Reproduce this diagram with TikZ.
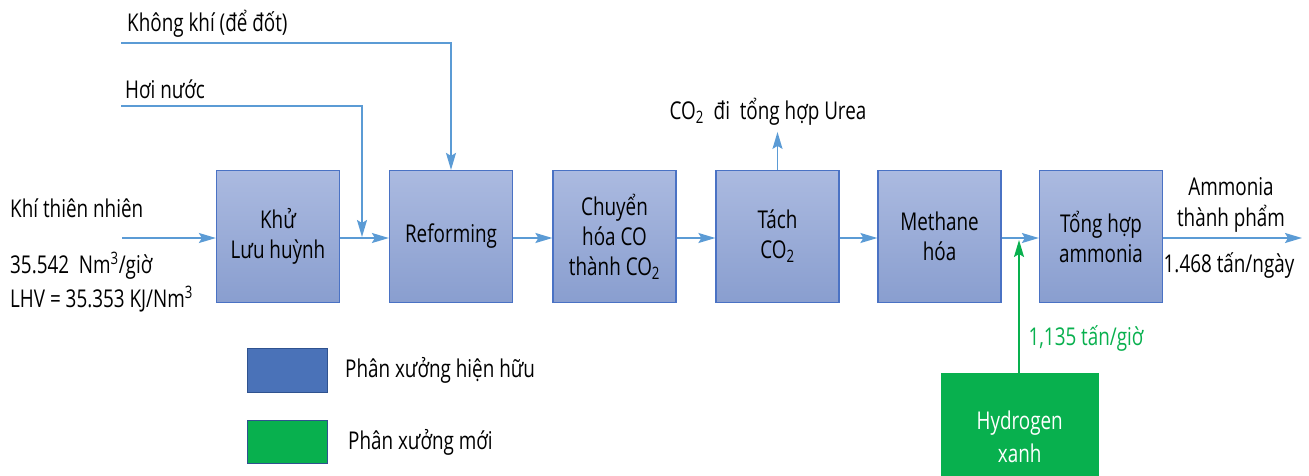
\documentclass[tikz,border=0pt]{standalone}
\usepackage{fontspec}
\setmainfont{Open Sans}[FakeStretch=0.77]
\usetikzlibrary{arrows.meta,positioning}
\definecolor{boxtop}{HTML}{ABBAE0}
\definecolor{boxbot}{HTML}{899ECF}
\definecolor{boxline}{HTML}{4A72C4}
\definecolor{flowc}{HTML}{5B9BD5}
\definecolor{xanh}{HTML}{08B04E}
\definecolor{legblue}{HTML}{4A72B8}
\definecolor{legline}{HTML}{2F528F}
\begin{document}
\begin{tikzpicture}[x=1pt,y=-1pt,
    font=\fontsize{24.5}{30}\selectfont,
    unit/.style={draw=boxline,line width=1.2pt,top color=boxtop,bottom color=boxbot,
      minimum width=123pt,minimum height=132pt,align=center,inner sep=0pt},
    flow/.style={flowc,line width=1.6pt,-{Stealth[length=17pt,width=10pt,inset=3pt]}},
    lbl/.style={inner sep=0pt,anchor=west}]
  \useasboundingbox (0,0) rectangle (1309,475);
  % cac phan xuong
  \node[unit] (khu) at (278,236.5) {Khử\\Lưu huỳnh};
  \node[unit] (ref) at (451,236.5) {Reforming};
  \node[unit] (chuyen) at (614.5,236.5) {Chuyển\\hóa CO\\thành CO\textsubscript{2}};
  \node[unit] (tach) at (777.5,236.5) {Tách\\CO\textsubscript{2}};
  \node[unit] (meth) at (939.5,236.5) {Methane\\hóa};
  \node[unit] (amon) at (1101,236.5) {Tổng hợp\\ammonia};
  \node[draw=xanh,fill=xanh,minimum width=157pt,minimum height=110pt,anchor=north west,
    inner sep=0pt] (hydro) at (941,373) {};
  \node[text=white,align=center,inner sep=0pt] at ([yshift=-64pt]hydro.north) {Hydrogen\\[3pt]xanh};
  % dong chinh
  \coordinate (vao) at (122,238);
  \coordinate (ra) at (1302,238);
  \draw[flow] (vao)--(vao-|khu.west);
  \draw[flow] (khu.east|-vao)--(ref.west|-vao);
  \draw[flow] (ref.east|-vao)--(chuyen.west|-vao);
  \draw[flow] (chuyen.east|-vao)--(tach.west|-vao);
  \draw[flow] (tach.east|-vao)--(meth.west|-vao);
  \draw[flow] (meth.east|-vao)--(amon.west|-vao);
  \draw[flow] (amon.east|-vao)--(ra);
  % hoi nuoc, khong khi
  \coordinate (hoi) at (121,106);
  \coordinate (kk) at (121,43);
  \draw[flow] (hoi)-|(362,237);
  \draw[flow] (kk)-|(ref.north);
  \draw[flow] (tach.north)--++(0,-38) coordinate (co2);
  \draw[xanh,line width=1.6pt,-{Stealth[length=17pt,width=10pt,inset=3pt]}] (hydro.north-|1019,0)--(1019,240);
  % nhan
  \node[lbl] at (10,208) {Khí thiên nhiên};
  \node[lbl] at (10,266) {35.542~~Nm\textsuperscript{3}/giờ};
  \node[lbl] at (10,299) {LHV = 35.353 KJ/Nm\textsuperscript{3}};
  \node[lbl] at (125,89) {Hơi nước};
  \node[lbl] at (127,24) {Không khí (để đốt)};
  \node[inner sep=0pt] at (768,112) {CO\textsubscript{2}~~đi~~tổng hợp Urea};
  \node[inner sep=0pt] at (1231,187) {Ammonia};
  \node[inner sep=0pt] at (1231,219) {thành phẩm};
  \node[inner sep=0pt] at (1229,265) {1.468 tấn/ngày};
  \node[inner sep=0pt,text=xanh] at (1086,338) {1,135 tấn/giờ};
  % chu thich
  \node[draw=legline,fill=legblue,line width=1pt,minimum width=80pt,minimum height=44pt,
    anchor=north west,inner sep=0pt] (lghh) at (247,348) {};
  \node[lbl,right=17pt of lghh] {Phân xưởng hiện hữu};
  \node[draw=legline,fill=xanh,line width=1pt,minimum width=80pt,minimum height=43pt,
    anchor=north west,inner sep=0pt] (lgm) at (247,420) {};
  \node[lbl,right=20pt of lgm] {Phân xưởng mới};
\end{tikzpicture}
\end{document}
